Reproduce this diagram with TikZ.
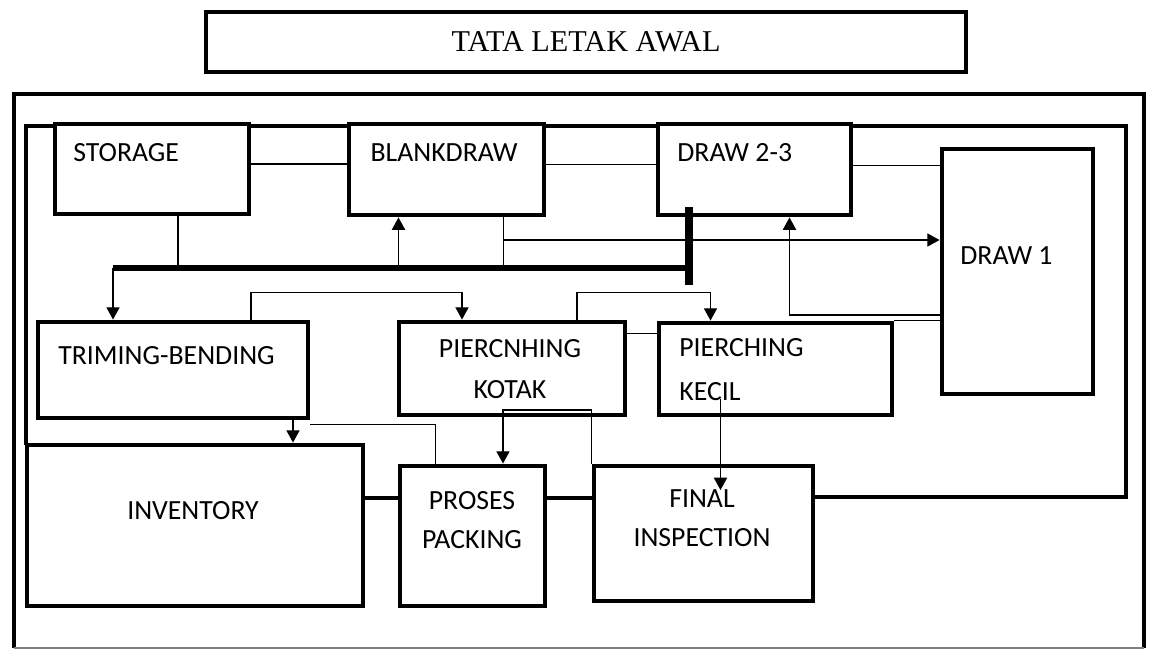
\documentclass[tikz,border=0pt]{standalone}
\usepackage{fontspec}
\setmainfont{Carlito}
\newfontfamily\judulfont{Liberation Serif}
\usetikzlibrary{arrows.meta}
\newlength\px
\setlength\px{0.02cm}

\begin{document}
\begin{tikzpicture}[x=0.02cm, y=-0.02cm,
    blok/.style={draw, line width=2.8pt, fill=white, inner sep=0pt},
    bingkai/.style={line width=2.3pt},
    garis/.style={line width=0.75pt},
    panah/.style={garis, -{Triangle[length=7pt, width=7.5pt]}},
    teks/.style={font=\fontsize{15.8}{22}\selectfont, inner sep=0pt, align=center}]
    \useasboundingbox (0,0) rectangle (1149,650);

    % bingkai luar
    \draw[bingkai] (14,648) -- (14,94) -- (1144,94) -- (1144,648);
    \draw[gray, line width=0.6pt] (14,648) -- (1144,648);

    \node[blok, minimum width=760\px, minimum height=60\px,
          font=\judulfont\fontsize{17.2}{20}\selectfont] (judul) at (586,42) {TATA LETAK AWAL};

    % bingkai dalam
    \draw[bingkai] (26,445) -- (26,126) -- (1126,126) -- (1126,497) -- (813,497);

    % mesin
    \node[blok, minimum width=194\px, minimum height=90\px] (storage) at (152,169) {};
    \node[blok, minimum width=195\px, minimum height=91\px] (blankdraw) at (446.5,169.5) {};
    \node[blok, minimum width=193\px, minimum height=91\px] (draw23) at (754.5,169.5) {};
    \node[blok, minimum width=151\px, minimum height=245\px] (draw1) at (1017.5,271.5) {};
    \node[blok, minimum width=270\px, minimum height=96\px] (trim) at (173,370) {};
    \node[blok, minimum width=226\px, minimum height=93\px] (kotak) at (512,368.5) {};
    \node[blok, minimum width=233\px, minimum height=92\px] (kecil) at (775.5,369) {};
    \node[blok, minimum width=336\px, minimum height=161\px] (inventory) at (195,525.5) {};
    \node[blok, minimum width=145\px, minimum height=140\px] (packing) at (472.5,536) {};
    \node[blok, minimum width=219\px, minimum height=135\px] (final) at (703.5,533.5) {};

    \draw[bingkai] (inventory.east |- 0,498) -- (packing.west |- 0,498);
    \draw[bingkai] (packing.east |- 0,498) -- (final.west |- 0,498);

    % baris atas
    \draw[garis] ([yshift=5\px]storage.east) -- ([yshift=5\px]storage.east -| blankdraw.west);
    \draw[garis] ([yshift=5\px]blankdraw.east) -- ([yshift=5\px]blankdraw.east -| draw23.west);
    \draw[garis] ([yshift=4\px]draw23.east) -- ([yshift=4\px]draw23.east -| draw1.west);

    \coordinate (busL) at (113,268);
    \coordinate (busR) at (689,268);
    \draw[garis] ([xshift=26\px]storage.south) -- ([xshift=26\px]storage.south |- busL);
    \draw[garis] ([xshift=57\px]blankdraw.south) -- ([xshift=57\px]blankdraw.south |- busL);
    \draw[panah] ([xshift=-48\px]blankdraw.south |- busL) -- ([xshift=-48\px]blankdraw.south);
    \draw[panah] ([xshift=57\px]blankdraw.south |- 0,240) -- (draw1.west |- 0,240);
    \draw[line width=3.4pt] (busL) -- (busR);
    \draw[line width=4pt] ([yshift=61\px]busR) -- ([yshift=-17\px]busR);
    \draw[panah] (busL) -- (busL |- trim.north);

    \draw[panah] (draw1.west |- 0,315) -| ([xshift=35\px]draw23.south);
    \draw[garis] (kecil.north east) -- (kecil.north east -| draw1.west);

    % baris tengah
    \draw[panah] ([xshift=78\px]trim.north) -- ++(0,-27) -| ([xshift=-50\px]kotak.north);
    \draw[panah] ([xshift=65\px]kotak.north) -- ++(0,-27) -| ([xshift=-65\px]kecil.north);
    \draw[garis] ([yshift=35\px]kotak.east) -- ([yshift=35\px]kotak.east -| kecil.west);
    \draw[panah] ([xshift=120\px]trim.south) -- ([xshift=120\px]trim.south |- inventory.north);
    \draw[garis] ([yshift=-4\px]trim.south east) -| ([xshift=-37\px]packing.north);
    \draw[panah] (final.north west) -- (final.north west |- 0,410) -| ([xshift=30.5\px]packing.north);

    % teks
    \node[teks, anchor=west] (tStorage) at (73,153) {STORAGE};
    \node[teks] (tBlank) at (444,153) {BLANKDRAW};
    \node[teks, anchor=west] (tDraw23) at (677,153) {DRAW 2-3};
    \node[teks, anchor=west] (tDraw1) at (960,256) {DRAW 1};
    \node[teks, anchor=west] (tTrim) at (58,356) {TRIMING-BENDING};
    \node[teks, font=\fontsize{15.8}{23.5}\selectfont] (tKotak) at (510,369) {PIERCNHING\\KOTAK};
    \node[teks, anchor=west, align=left, font=\fontsize{15.8}{25}\selectfont] (tKecil) at (679,370) {PIERCHING\\KECIL};
    \node[teks] (tInv) at (193,511) {INVENTORY};
    \node[teks] (tPack) at (472,520) {PROSES\\PACKING};
    \node[teks] (tFinal) at (702,518) {FINAL\\INSPECTION};

    \draw[panah] ([xshift=-55\px]kecil.south) ++(0,-18) -- ([xshift=-55\px]kecil.south |- 0,490);
\end{tikzpicture}
\end{document}
